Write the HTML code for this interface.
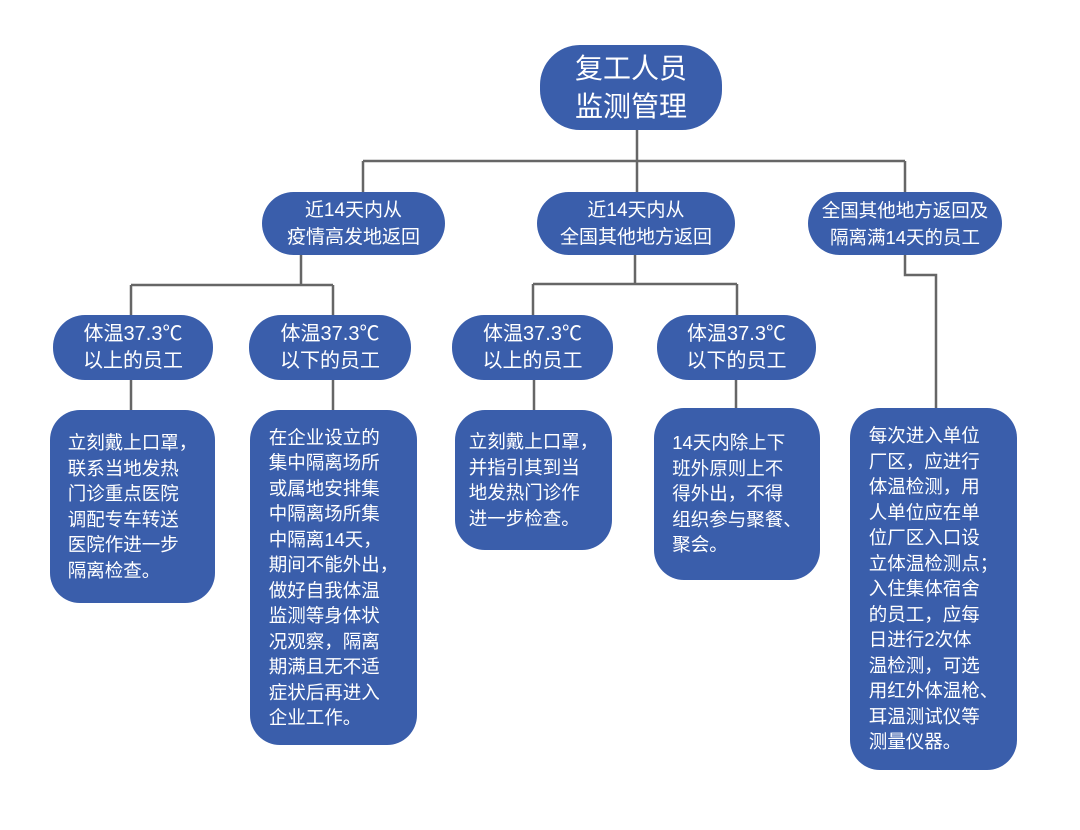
<!DOCTYPE html>
<html><head><meta charset="utf-8"><style>
body{margin:0;width:1080px;height:830px;background:#fff;position:relative;overflow:hidden;font-family:"Liberation Sans","Noto Sans CJK SC",sans-serif;}
.n{position:absolute;background:#3a5eab;color:#fff;box-sizing:border-box;display:flex;align-items:center;justify-content:center;text-align:center;border-radius:32px;font-size:19px;line-height:27px;}
.b{text-align:left;border-radius:30px;font-size:18.5px;line-height:25.5px;}
svg{position:absolute;left:0;top:0}
</style></head><body>
<svg width="1080" height="830"><g stroke="#666" stroke-width="2.5" fill="none">
<path d="M637 128V161M363 161H905M363 161V192M637 161V192M905 161V192"/>
<path d="M301 255V285M131 285H333M131 285V315M333 285V315"/>
<path d="M635 255V284M533 284H737M533 284V315M737 284V315"/>
<path d="M905 255V275H936V408"/>
<path d="M131 380V410M333 380V410M534 380V410M736 380V408"/>
</g></svg>
<div class="n" style="left:540px;top:45px;width:182px;height:85px;font-size:28px;line-height:38px;border-radius:40px">复工人员<br>监测管理</div>
<div class="n" style="left:262px;top:192px;width:183px;height:63px">近14天内从<br>疫情高发地返回</div>
<div class="n" style="left:537px;top:192px;width:198px;height:63px">近14天内从<br>全国其他地方返回</div>
<div class="n" style="left:808px;top:192px;width:194px;height:63px;font-size:18.5px">全国其他地方返回及<br>隔离满14天的员工</div>
<div class="n" style="left:53px;top:315px;width:160px;height:65px;font-size:20px">体温37.3℃<br>以上的员工</div>
<div class="n" style="left:249px;top:315px;width:162px;height:65px;font-size:20px">体温37.3℃<br>以下的员工</div>
<div class="n" style="left:452px;top:315px;width:161px;height:65px;font-size:20px">体温37.3℃<br>以上的员工</div>
<div class="n" style="left:657px;top:315px;width:159px;height:65px;font-size:20px">体温37.3℃<br>以下的员工</div>
<div class="n b" style="left:50px;top:410px;width:165px;height:193px">立刻戴上口罩，<br>联系当地发热<br>门诊重点医院<br>调配专车转送<br>医院作进一步<br>隔离检查。</div>
<div class="n b" style="left:250px;top:410px;width:167px;height:335px">在企业设立的<br>集中隔离场所<br>或属地安排集<br>中隔离场所集<br>中隔离14天，<br>期间不能外出，<br>做好自我体温<br>监测等身体状<br>况观察，隔离<br>期满且无不适<br>症状后再进入<br>企业工作。</div>
<div class="n b" style="left:455px;top:410px;width:157px;height:140px">立刻戴上口罩，<br>并指引其到当<br>地发热门诊作<br>进一步检查。</div>
<div class="n b" style="left:654px;top:408px;width:166px;height:172px">14天内除上下<br>班外原则上不<br>得外出，不得<br>组织参与聚餐、<br>聚会。</div>
<div class="n b" style="left:850px;top:408px;width:167px;height:362px">每次进入单位<br>厂区，应进行<br>体温检测，用<br>人单位应在单<br>位厂区入口设<br>立体温检测点；<br>入住集体宿舍<br>的员工，应每<br>日进行2次体<br>温检测，可选<br>用红外体温枪、<br>耳温测试仪等<br>测量仪器。</div>
</body></html>
